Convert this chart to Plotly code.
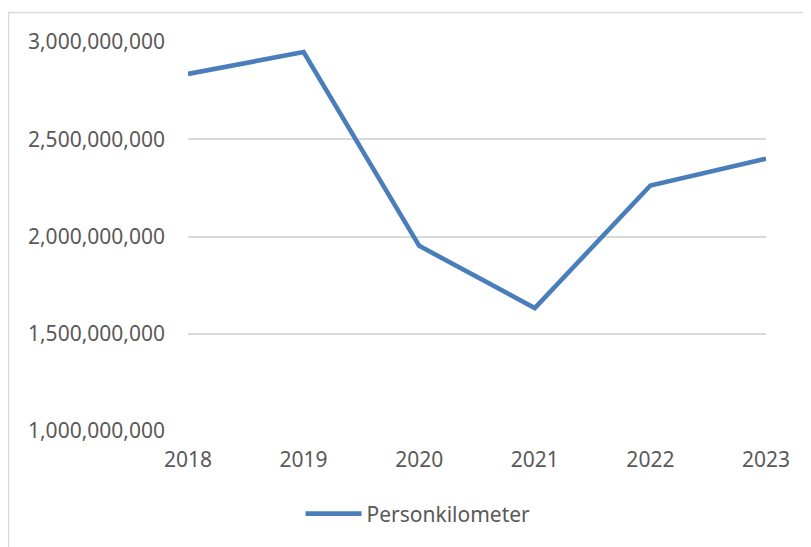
import plotly.graph_objects as go

# values
years = [2018, 2019, 2020, 2021, 2022, 2023]
personkm = [2836000000, 2948000000, 1952000000, 1632000000, 2262000000, 2400000000]
series_name = "Personkilometer"

# page body has an 8px margin, so the figure starts at (8, 8) in the window
OFF = 8
W, H = 811, 547
L, T = 188 - OFF, 42 - OFF
R = W + OFF - 766
B = H + OFF - 431
pw, ph = W - L - R, H - T - B

fig = go.Figure()
fig.add_trace(go.Scatter(x=years, y=personkm, mode="lines", name=series_name,
                         line=dict(color="#4A7EBB", width=4.6)))

font = dict(family="Noto Sans, Open Sans, sans-serif", size=21, color="#595959")

fig.update_layout(
    width=W, height=H,
    margin=dict(l=L, r=R, t=T, b=B),
    paper_bgcolor="white", plot_bgcolor="white",
    font=font,
    showlegend=True,
    legend=dict(orientation="h", x=(418 - 188) / pw, xanchor="center",
                y=-(514 - 431) / ph, yanchor="middle",
                font=font, itemwidth=56),
    xaxis=dict(range=[2018, 2023], tickvals=years, showgrid=False,
               zeroline=False, showline=False, ticks="", ticklabelstandoff=14),
    yaxis=dict(range=[1e9, 3e9], dtick=5e8, tickformat=",d",
               showgrid=True, gridcolor="#D9D9D9", gridwidth=1.5,
               zeroline=False, showline=False, ticks="", ticklabelstandoff=22),
)

# outer chart-area border like the source
fig.add_shape(type="rect", xref="paper", yref="paper",
              x0=(8.5 - 188) / pw, x1=1.3, y0=-0.6, y1=(431 - 12.5) / ph,
              line=dict(color="#D9D9D9", width=1.5), fillcolor="rgba(0,0,0,0)",
              layer="below")

fig.write_html("out.html")
